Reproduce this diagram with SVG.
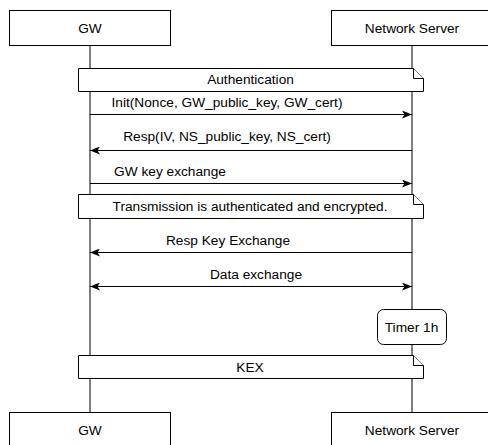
<svg xmlns="http://www.w3.org/2000/svg" width="488" height="445" viewBox="0 0 488 445">
<style>
.box{fill:#fff;stroke:#000;stroke-width:1}
.life{stroke:#000;stroke-width:1;fill:none}
.msg{stroke:#000;stroke-width:1;fill:none}
.t{font-family:"Liberation Sans",Arial,Helvetica,sans-serif;font-size:13.7px;fill:#000;text-anchor:middle}
</style>
<defs>
<marker id="ah" viewBox="0 0 10 8" refX="10" refY="4" markerWidth="10" markerHeight="8" markerUnits="userSpaceOnUse" orient="auto-start-reverse">
<path d="M0,0 L10,4 L0,8 L2.5,4 Z" fill="#000"/>
</marker>
</defs>
<rect width="488" height="445" fill="#fff"/>
<g id="lifelines">
<line class="life" x1="90" y1="45" x2="90" y2="412"/>
<line class="life" x1="412" y1="45" x2="412" y2="412"/>
</g>
<g id="gw-top"><rect class="box" x="9.5" y="10.5" width="161" height="35"/><text class="t" x="90" y="32.5">GW</text></g>
<g id="ns-top"><rect class="box" x="331.5" y="10.5" width="161" height="35"/><text class="t" x="412" y="32.5">Network Server</text></g>
<g id="note-auth"><path class="box" d="M78.5,68.5 H413.5 L423.5,78.5 V91.5 H78.5 Z"/><path class="box" d="M413.5,68.5 V78.5 H423.5" fill="none"/><text class="t" x="250.5" y="84">Authentication</text></g>
<g id="connectors">
<line class="msg" x1="90" y1="114.5" x2="412" y2="114.5" marker-end="url(#ah)"/>
<line class="msg" x1="412" y1="150.5" x2="90" y2="150.5" marker-end="url(#ah)"/>
<line class="msg" x1="90" y1="183.5" x2="412" y2="183.5" marker-end="url(#ah)"/>
<line class="msg" x1="412" y1="252.5" x2="90" y2="252.5" marker-end="url(#ah)"/>
<line class="msg" x1="90" y1="286.5" x2="412" y2="286.5" marker-start="url(#ah)" marker-end="url(#ah)"/>
</g>
<g id="labels">
<text class="t" x="227" y="107">Init(Nonce, GW_public_key, GW_cert)</text>
<text class="t" x="227" y="141">Resp(IV, NS_public_key, NS_cert)</text>
<text class="t" x="170" y="176">GW key exchange</text>
<text class="t" x="228" y="245">Resp Key Exchange</text>
<text class="t" x="256" y="279">Data exchange</text>
</g>
<g id="note-trans"><path class="box" d="M78.5,194.5 H413.5 L423.5,204.5 V218.5 H78.5 Z"/><path class="box" d="M413.5,194.5 V204.5 H423.5" fill="none"/><text class="t" x="250" y="210.5">Transmission is authenticated and encrypted.</text></g>
<g id="timer"><rect class="box" x="377.5" y="309.5" width="69" height="35" rx="6"/><text class="t" x="411.5" y="331.5">Timer 1h</text></g>
<g id="note-kex"><path class="box" d="M78.5,355.5 H413.5 L423.5,365.5 V378.5 H78.5 Z"/><path class="box" d="M413.5,355.5 V365.5 H423.5" fill="none"/><text class="t" x="250" y="371.5">KEX</text></g>
<g id="gw-bottom"><rect class="box" x="9.5" y="412.5" width="161" height="35"/><text class="t" x="90" y="435">GW</text></g>
<g id="ns-bottom"><rect class="box" x="331.5" y="412.5" width="161" height="35"/><text class="t" x="412" y="435">Network Server</text></g>
</svg>
